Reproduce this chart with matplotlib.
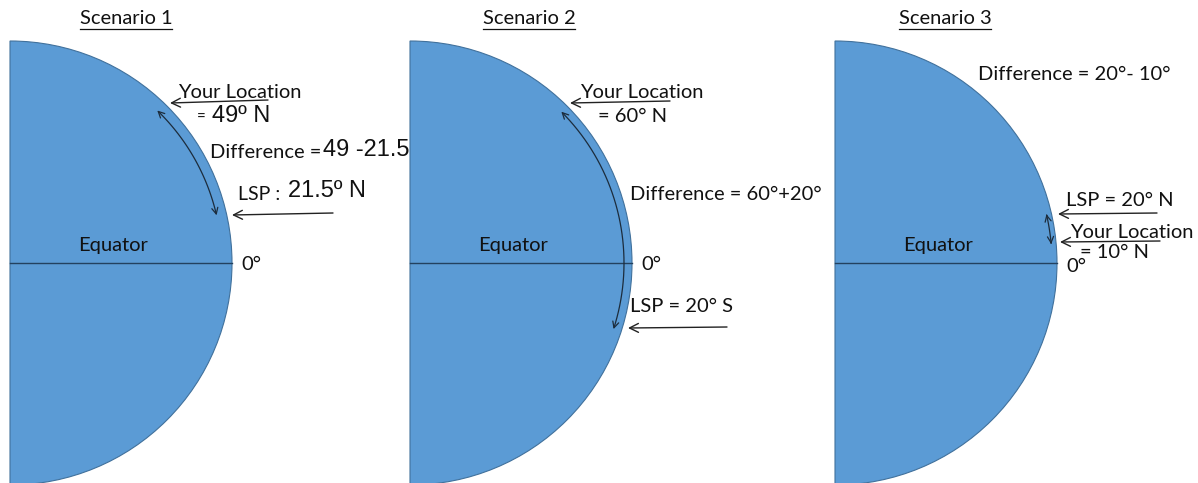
import numpy as np
import matplotlib
matplotlib.use('Agg')
import matplotlib.pyplot as plt
from matplotlib.patches import Wedge, FancyArrowPatch
from matplotlib.path import Path

# text content of the three scenarios
scenarios = ['Scenario 1', 'Scenario 2', 'Scenario 3']
loc_values = ['49º N', '60° N', '10° N']
lsp_values = ['21.5º N', '20° S', '20° N']
lsp_sep = [':', '=', '=']
diff_values = ['49 -21.5', '60°+20°', '20°- 10°']

SANS = 'Lato'
ARIAL = 'Liberation Sans'
BLUE = '#5b9bd5'
EDGE = '#41719c'
INK = '#111111'
FS = 14.5

fig = plt.figure(figsize=(11.98, 4.83), dpi=100)
ax = fig.add_axes([0, 0, 1, 1])
ax.set_xlim(0, 1198)
ax.set_ylim(483, 0)
ax.axis('off')

cy, r = 263, 222
centers = [10, 410, 835]
title_x = [126, 529, 945]


def pt(cx, rad, deg):
    a = np.radians(deg)
    return cx + rad * np.cos(a), cy - rad * np.sin(a)


def arc(cx, rad, a0, a1):
    angs = np.linspace(a0, a1, 40)
    pts = [pt(cx, rad, a) for a in angs]
    p = FancyArrowPatch(path=Path(pts), arrowstyle='<->', mutation_scale=11,
                        lw=0.9, color='#1c2c3c', zorder=4)
    ax.add_patch(p)


def arrow(tail, tip):
    ax.annotate('', xy=tip, xytext=tail,
                arrowprops=dict(arrowstyle='->', lw=1.0, color='#222222',
                                shrinkA=0, shrinkB=0, mutation_scale=16))


def txt(x, y, s, size=FS, family=SANS, **kw):
    return ax.text(x, y, s, fontsize=size, family=family, color=INK,
                   ha='left', va='center', zorder=5, **kw)


titles = []
for i, cx in enumerate(centers):
    ax.add_patch(Wedge((cx, cy), r, -90, 90, facecolor=BLUE, edgecolor=EDGE,
                       lw=0.8, zorder=1))
    ax.plot([cx, cx + r], [cy, cy], color='#23415f', lw=1.0, zorder=2)
    ax.text(cx + 103, 245, 'Equator', fontsize=FS, family=SANS, color=INK,
            ha='center', va='center', zorder=5)
    titles.append(ax.text(title_x[i], 18, scenarios[i], fontsize=FS, family=SANS,
                          color=INK, ha='center', va='center'))

# Scenario 1
txt(178, 93, 'Your Location')
arrow((268, 100), (170, 103))
txt(197, 118, '=', size=11)
txt(212, 116, loc_values[0], size=17, family=ARIAL)
txt(210, 152, 'Difference =')
txt(323, 150, diff_values[0], size=17, family=ARIAL)
txt(238, 195, 'LSP ' + lsp_sep[0], size=14)
txt(288, 191, lsp_values[0], size=17, family=ARIAL)
arrow((333, 213), (232, 215))
txt(241, 265, '0°')
arc(centers[0], 212, 46, 13)

# Scenario 2
txt(580, 93, 'Your Location')
arrow((670, 101), (570, 103))
txt(598, 116, '= ' + loc_values[1])
txt(630, 195, 'Difference = ' + diff_values[1])
txt(641, 264, '0°')
txt(630, 306, 'LSP ' + lsp_sep[1] + ' ' + lsp_values[1])
arrow((727, 327), (628, 328))
arc(centers[1], 214, 45, -18)

# Scenario 3
txt(978, 75, 'Difference = ' + diff_values[2])
txt(1066, 201, 'LSP ' + lsp_sep[2] + ' ' + lsp_values[2])
arrow((1157, 213), (1058, 214))
txt(1070, 232, 'Your Location')
arrow((1160, 241), (1060, 242))
txt(1066, 267, '0°')
txt(1080, 253, '= ' + loc_values[2])
arc(centers[2], 217, 13, 5)

# underline the titles
fig.canvas.draw()
inv = ax.transData.inverted()
for t in titles:
    bb = t.get_window_extent()
    (x0, _), (x1, _) = inv.transform([[bb.x0, bb.y0], [bb.x1, bb.y0]])
    ax.plot([x0, x1], [29, 29], color=INK, lw=0.9)

fig.savefig('out.png', dpi=100)
